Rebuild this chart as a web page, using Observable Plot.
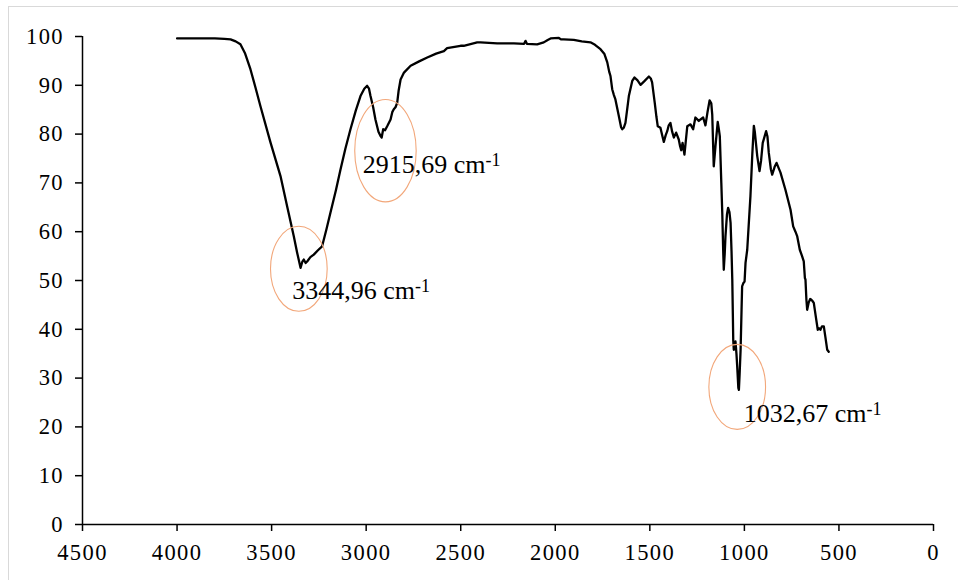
<!DOCTYPE html>
<html>
<head>
<meta charset="utf-8">
<script src="https://cdn.jsdelivr.net/npm/d3@7"></script>
<script src="https://cdn.jsdelivr.net/npm/@observablehq/plot@0.6"></script>
<style>
  html, body { margin: 0; padding: 0; background: #fff; }
  #wrap { position: relative; width: 958px; height: 580px; overflow: hidden; background: #fff; }
  #wrap svg { position: absolute; left: 0; top: 0; }
  #wrap svg text { font-family: "Liberation Serif", "DejaVu Serif", serif !important; }
  #wrap svg g[aria-label="x-axis tick label"] text,
  #wrap svg g[aria-label="y-axis tick label"] text { letter-spacing: 1.4px; }
  #border { position: absolute; left: 8px; top: 6px; width: 1200px; height: 1200px;
            border: 1.5px solid #d9d9d9; box-sizing: border-box; pointer-events: none; z-index: 2; }
</style>
</head>
<body>
<div id="wrap"><div id="border"></div></div>
<script>
// FTIR spectrum: wavenumber (cm-1) and transmittance (%)
const wavenumber = [
  4000, 3900, 3800, 3750, 3717, 3690, 3665, 3640, 3612, 3585, 3559, 3506, 3453, 3418, 3383, 3365,
  3347, 3338, 3330, 3320, 3312, 3295, 3277, 3255, 3233, 3210, 3189, 3160, 3136, 3110, 3083, 3055,
  3030, 3010, 2995, 2985, 2977, 2963, 2951, 2935, 2924, 2918, 2910, 2900, 2889, 2871, 2862, 2854,
  2845, 2836, 2828, 2818, 2800, 2765, 2720, 2677, 2630, 2589, 2572, 2501, 2484, 2413, 2395, 2307,
  2219, 2165, 2157, 2150, 2096, 2061, 2040, 2025, 1981, 1970, 1955, 1902, 1860, 1814, 1790, 1761,
  1740, 1725, 1715, 1708, 1699, 1690, 1682, 1664, 1652, 1646, 1638, 1629, 1620, 1611, 1593, 1581,
  1565, 1549, 1530, 1505, 1495, 1488, 1474, 1465, 1458, 1444, 1435, 1426, 1416, 1408, 1400, 1391,
  1382, 1373, 1361, 1347, 1340, 1334, 1327, 1317, 1310, 1302, 1285, 1271, 1259, 1241, 1232, 1218,
  1206, 1195, 1184, 1175, 1170, 1162, 1153, 1141, 1135, 1130, 1122, 1117, 1112, 1109, 1104, 1100,
  1092, 1086, 1079, 1073, 1068, 1064, 1061, 1059, 1056, 1050, 1047, 1042, 1038, 1032, 1029, 1025,
  1020, 1015, 1012, 1005, 999, 994, 985, 968, 958, 950, 945, 932, 920, 912, 903, 885,
  878, 871, 860, 853, 840, 830, 809, 783, 756, 742, 730, 721, 707, 695, 686, 680,
  677, 672, 668, 660, 652, 647, 640, 633, 622, 612, 605, 598, 590, 580, 572, 562, 554
];
const transmittance = [
  99.6, 99.6, 99.6, 99.5, 99.4, 99.0, 98.4, 96.5, 93.3, 89.5, 85.7, 78.3, 71.4, 65.2, 59.1, 55.7,
  52.6, 53.8, 54.3, 53.6, 53.9, 54.8, 55.3, 56.2, 57.0, 60.5, 63.9, 68.5, 72.7, 77.0, 81.0, 84.8,
  87.8, 89.3, 89.9, 89.3, 87.8, 85.5, 83.0, 80.5, 79.6, 79.3, 81.0, 80.8, 81.6, 83.0, 84.5, 85.1,
  85.5, 86.4, 89.0, 91.2, 92.6, 94.0, 94.9, 95.7, 96.5, 97.0, 97.6, 98.1, 98.1, 98.8, 98.8, 98.6,
  98.6, 98.5, 99.1, 98.5, 98.4, 98.8, 99.3, 99.6, 99.7, 99.4, 99.4, 99.3, 99.0, 98.8, 98.3, 97.4,
  96.4, 94.7, 92.8, 91.9, 89.2, 88.0, 87.1, 83.7, 81.4, 81.0, 81.3, 82.3, 85.0, 87.8, 90.9, 91.6,
  91.0, 90.1, 90.8, 91.8, 91.4, 90.6, 86.4, 83.5, 81.6, 81.3, 79.8, 78.4, 79.8, 80.6, 81.8, 82.3,
  80.5, 79.3, 80.3, 78.9, 77.5, 76.7, 78.2, 75.8, 78.5, 81.6, 82.0, 81.0, 83.4, 82.7, 83.0, 83.4,
  81.8, 84.5, 86.9, 86.3, 84.0, 73.4, 77.5, 82.5, 81.0, 79.6, 70.0, 63.9, 56.0, 52.2, 55.5, 59.1,
  63.6, 64.9, 64.0, 61.8, 56.0, 50.2, 43.0, 37.8, 35.8, 36.5, 37.5, 35.0, 32.4, 28.0, 27.6, 31.0,
  35.8, 44.0, 48.8, 49.5, 49.8, 53.6, 56.3, 67.3, 76.0, 81.7, 80.5, 75.5, 72.4, 74.5, 78.2, 80.6,
  79.5, 76.2, 72.8, 71.7, 73.3, 74.1, 72.1, 68.6, 64.5, 61.1, 60.0, 59.1, 56.3, 55.0, 53.9, 50.5,
  50.2, 46.0, 44.0, 45.5, 46.2, 46.1, 45.8, 45.4, 42.5, 39.9, 40.2, 39.9, 40.6, 40.6, 38.5, 35.8, 35.4
];

const xTicks = [4500, 4000, 3500, 3000, 2500, 2000, 1500, 1000, 500, 0];
const yTicks = [0, 10, 20, 30, 40, 50, 60, 70, 80, 90, 100];

// Peak annotations
const peakLabels = ["3344,96 cm", "2915,69 cm", "1032,67 cm"];
const peakUnitSup = "-1";
const labelX = [3391, 3018, 1003];
const labelY = [46.2, 72.1, 21.1];
const ellipseX = [3356, 2898, 1038];
const ellipseY = [52.4, 76.6, 28.2];
const ellipseRy = [42.5, 51.2, 42.5];
const ellipseRatio = [0.667, 0.6, 0.667];

function ellipseSymbol(ratio) {
  return {
    draw(ctx, size) {
      const ry = Math.sqrt(size / Math.PI), rx = ry * ratio, k = 0.5523;
      ctx.moveTo(rx, 0);
      ctx.bezierCurveTo(rx, ry * k, rx * k, ry, 0, ry);
      ctx.bezierCurveTo(-rx * k, ry, -rx, ry * k, -rx, 0);
      ctx.bezierCurveTo(-rx, -ry * k, -rx * k, -ry, 0, -ry);
      ctx.bezierCurveTo(rx * k, -ry, rx, -ry * k, rx, 0);
      ctx.closePath();
    }
  };
}

const spectrum = wavenumber.map((w, i) => ({w, t: transmittance[i]}));
const labels = peakLabels.map((s, i) => ({s, x: labelX[i], y: labelY[i]}));

const font = '"Liberation Serif", "DejaVu Serif", serif';

const chart = Plot.plot({
  width: 958,
  height: 580,
  marginLeft: 82,
  marginRight: 25,
  marginTop: 36,
  marginBottom: 56,
  style: {fontFamily: font, fontSize: "22px", color: "#000", background: "transparent", overflow: "visible"},
  x: {domain: [4500, 0]},
  y: {domain: [0, 100]},
  marks: [
    Plot.axisX({ticks: xTicks, tickFormat: d => String(d), tickSize: 7, tickPadding: 13,
                strokeWidth: 1.5, fontSize: 22.5, label: null}),
    Plot.axisY({ticks: yTicks, tickFormat: d => String(d), tickSize: 7, tickPadding: 11.5,
                strokeWidth: 1.5, fontSize: 22.5, label: null}),
    Plot.ruleY([0], {stroke: "#000", strokeWidth: 1.5}),
    Plot.ruleX([4500], {stroke: "#000", strokeWidth: 1.5}),
    Plot.line(spectrum, {x: "w", y: "t", stroke: "#000", strokeWidth: 2.3, strokeLinejoin: "round"}),
    ...ellipseX.map((_, i) => Plot.dot([i], {
      x: j => ellipseX[j], y: j => ellipseY[j], r: ellipseRy[i],
      symbol: ellipseSymbol(ellipseRatio[i]), stroke: "#f2a77a", strokeWidth: 1.1, fill: "none"
    })),
    Plot.text(labels, {x: "x", y: "y", text: "s", textAnchor: "start", lineAnchor: "bottom",
                       fontSize: 26, fill: "#000"})
  ]
});

// append superscript unit exponent to annotation labels
chart.querySelectorAll("text").forEach(t => {
  if (peakLabels.includes(t.textContent)) {
    const ts = document.createElementNS("http://www.w3.org/2000/svg", "tspan");
    ts.setAttribute("dy", "-7");
    ts.setAttribute("font-size", "18");
    ts.textContent = peakUnitSup;
    t.appendChild(ts);
  }
});

document.getElementById("wrap").prepend(chart);
</script>
</body>
</html>
